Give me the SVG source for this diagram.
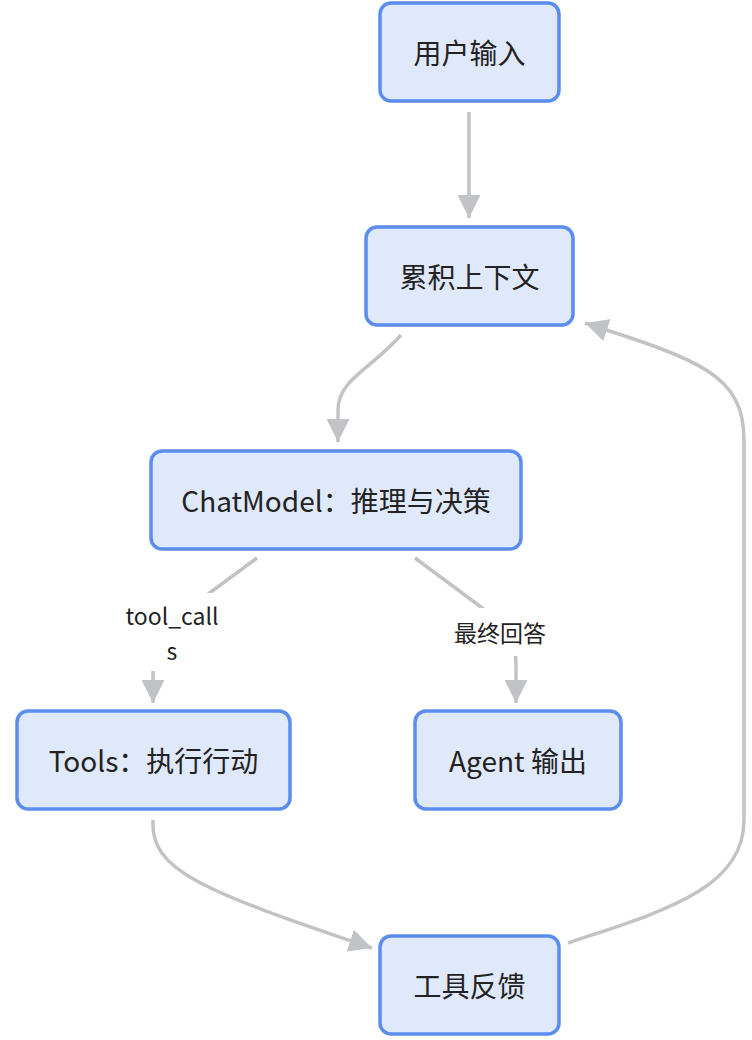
<svg xmlns="http://www.w3.org/2000/svg" width="752" height="1040" viewBox="0 0 752 1040">
<style>
.node rect{fill:#e0e8fb;stroke:#5b8def;stroke-width:3.5}
.node text{font-family:"Noto Sans CJK SC","Noto Sans",sans-serif;font-size:28px;fill:#222;text-anchor:middle;dominant-baseline:central}
.edge{fill:none;stroke:#c1c3c7;stroke-width:3.5}
.elabel text{font-family:"Noto Sans CJK SC","Noto Sans",sans-serif;font-size:23px;fill:#222;text-anchor:middle;dominant-baseline:central}
.elabel rect{fill:#ffffff}
</style>
<defs>
<marker id="arr" viewBox="0 0 10 10" refX="10" refY="5" markerUnits="userSpaceOnUse" markerWidth="23" markerHeight="23" orient="auto">
<path d="M0,0 L10,5 L0,10 z" fill="#c1c3c7"/>
</marker>
</defs>
<rect width="752" height="1040" fill="#ffffff"/>
<g id="connectors">
<path class="edge" d="M469,112 L469,218" marker-end="url(#arr)"/>
<path class="edge" d="M401,335 C370,370 338,380 338,410 L338,442" marker-end="url(#arr)"/>
<path class="edge" d="M257,558 L200,600 C160,630 153,650 153,670 L153,703" marker-end="url(#arr)"/>
<path class="edge" d="M415,558 L485,610 C510,630 516,645 516,665 L516,703" marker-end="url(#arr)"/>
<path class="edge" d="M153,820 C150,870 200,890 372,948" marker-end="url(#arr)"/>
<path class="edge" d="M568,943 C660,912 744,890 744,820 L744,440 C744,375 700,360 585,323" marker-end="url(#arr)"/>
<g class="elabel" id="label-toolcalls">
<rect x="114" y="593" width="116" height="78"/>
<text x="172" y="615">tool_call</text>
<text x="172" y="650">s</text>
</g>
<g class="elabel" id="label-final">
<rect x="446" y="608" width="108" height="48"/>
<text x="500" y="632">最终回答</text>
</g>
</g>
<g class="node" id="n-input"><rect x="380" y="3" width="179" height="98" rx="11"/><text x="469.5" y="52">用户输入</text></g>
<g class="node" id="n-context"><rect x="366" y="227" width="207" height="98" rx="11"/><text x="469.5" y="276">累积上下文</text></g>
<g class="node" id="n-chat"><rect x="151" y="451" width="370" height="98" rx="11"/><text x="336" y="500">ChatModel：推理与决策</text></g>
<g class="node" id="n-tools"><rect x="17" y="711" width="273" height="98" rx="11"/><text x="153.5" y="760">Tools：执行行动</text></g>
<g class="node" id="n-agent"><rect x="415" y="711" width="206" height="98" rx="11"/><text x="518" y="760">Agent 输出</text></g>
<g class="node" id="n-feedback"><rect x="380" y="936" width="179" height="98" rx="11"/><text x="469.5" y="985">工具反馈</text></g>
</svg>
